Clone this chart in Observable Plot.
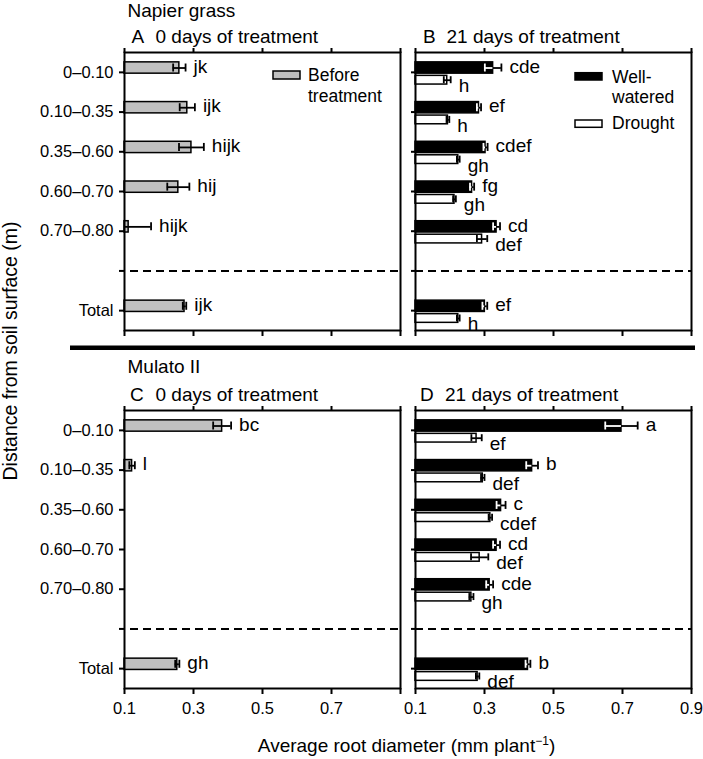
<!DOCTYPE html>
<html><head><meta charset="utf-8">
<script src="https://cdn.jsdelivr.net/npm/d3@7"></script>
<script src="https://cdn.jsdelivr.net/npm/@observablehq/plot@0.6"></script>
<style>
body{margin:0;background:#fff;}
#fig{position:relative;width:703px;height:759px;font-family:"Liberation Sans",Arial,Helvetica,sans-serif;}
#fig .p{position:absolute;}
#fig svg.ov{position:absolute;left:0;top:0;pointer-events:none;overflow:visible;}
</style></head><body><div id="fig"></div>
<script>
// ---------- data ----------
const depths = ["0–0.10","0.10–0.35","0.35–0.60","0.60–0.70","0.70–0.80","Total"];
const slots  = ["0–0.10","0.10–0.35","0.35–0.60","0.60–0.70","0.70–0.80","sep","Total"];
const xTicks = [0.1, 0.3, 0.5, 0.7, 0.9];
const xTickLabelsLeft  = ["0.1","0.3","0.5","0.7",""];
const xTickLabelsRight = ["0.1","0.3","0.5","0.7","0.9"];
const xDomain = [0.1, 0.9];

// Napier grass
const napierBefore        = [0.259, 0.282, 0.294, 0.256, 0.112, 0.274];
const napierBeforeErr     = [0.018, 0.022, 0.036, 0.032, 0.065, 0.005];
const napierBeforeLetters = ["jk","ijk","hijk","hij","hijk","ijk"];
const napierWW            = [0.325, 0.284, 0.303, 0.264, 0.335, 0.301];
const napierWWErr         = [0.024, 0.006, 0.006, 0.006, 0.010, 0.007];
const napierWWLetters     = ["cde","ef","cdef","fg","cd","ef"];
const napierDr            = [0.192, 0.194, 0.224, 0.213, 0.293, 0.224];
const napierDrErr         = [0.010, 0.004, 0.004, 0.004, 0.015, 0.004];
const napierDrLetters     = ["h","h","gh","gh","def","h"];

// Mulato II
const mulatoBefore        = [0.383, 0.122, null, null, null, 0.253];
const mulatoBeforeErr     = [0.026, 0.008, null, null, null, 0.006];
const mulatoBeforeLetters = ["bc","l",null,null,null,"gh"];
const mulatoWW            = [0.697, 0.438, 0.348, 0.335, 0.315, 0.426];
const mulatoWWErr         = [0.047, 0.017, 0.013, 0.010, 0.010, 0.007];
const mulatoWWLetters     = ["a","b","c","cd","cde","b"];
const mulatoDr            = [0.277, 0.295, 0.317, 0.286, 0.262, 0.280];
const mulatoDrErr         = [0.015, 0.005, 0.005, 0.025, 0.006, 0.005];
const mulatoDrLetters     = ["ef","def","cdef","def","gh","def"];

// ---------- styling ----------
const FONT = "Liberation Sans, Arial, Helvetica, sans-serif";
const roles = {
  before: {fill: "#c0c0c0", inner: "black", slot: "top"},
  ww:     {fill: "black",   inner: "white", slot: "top"},
  dr:     {fill: "white",   inner: "black", slot: "bottom"}
};
const geo = {
  top:    {barTop: -10, barBottom: 1.3,  line: -4.35, cap: 4,   labelDy: -5.8},
  bottom: {barTop: 3.5, barBottom: 12.2, line: 7.85,  cap: 3.5, labelDy: 13.7}
};

function rows(values, errs, letters) {
  return depths.map((depth, i) => ({depth, v: values[i], e: errs[i], letter: letters[i]}))
               .filter(d => d.v != null);
}

function seriesMarks(data, roleName, step) {
  const r = roles[roleName], g = geo[r.slot], h = step / 2;
  const capTop = h + g.line - g.cap, capBottom = h - g.line - g.cap;
  return [
    Plot.barX(data, {y: "depth", x1: () => xDomain[0], x2: "v", fill: r.fill, stroke: "black",
      strokeWidth: 1.5, insetTop: h + g.barTop, insetBottom: h - g.barBottom}),
    Plot.ruleY(data, {y: "depth", x1: d => d.v - d.e, x2: "v", dy: g.line, stroke: r.inner, strokeWidth: 1.8, clip: true}),
    Plot.ruleY(data, {y: "depth", x1: "v", x2: d => d.v + d.e, dy: g.line, stroke: "black", strokeWidth: 1.8}),
    Plot.tickX(data, {y: "depth", x: d => d.v - d.e, insetTop: capTop, insetBottom: capBottom, stroke: r.inner, strokeWidth: 1.8, clip: true}),
    Plot.tickX(data, {y: "depth", x: d => d.v + d.e, insetTop: capTop, insetBottom: capBottom, stroke: "black", strokeWidth: 1.8}),
    Plot.text(data, {y: "depth", x: d => d.v + d.e, text: "letter", dx: 8, dy: g.labelDy,
      textAnchor: "start", fontSize: 19, fill: "black"})
  ];
}

function panel({series, left, top, marginLeft, marginRight, marginTop, marginBottom, yLabels, xLabels, dashInset}) {
  const plotH = 278;
  const height = marginTop + plotH + marginBottom;
  const width = marginLeft + 276 + marginRight;
  const step = plotH / slots.length;
  const marks = [
    Plot.ruleY(["sep"], {stroke: "black", strokeWidth: 2, strokeDasharray: "8,5", insetLeft: dashInset})
  ];
  for (const s of series) marks.push(...seriesMarks(s.data, s.role, step));
  marks.push(
    Plot.axisX({anchor: "top", ticks: xTicks, tickSize: 5, tickFormat: () => "", label: null, strokeWidth: 2}),
    Plot.axisX({anchor: "bottom", ticks: xTicks, tickSize: 6, tickPadding: 8, label: null, strokeWidth: 2,
      fontSize: 16.5, tickFormat: xLabels ? ((d, i) => xLabels[i]) : () => ""}),
    Plot.axisY({anchor: "left", tickSize: yLabels ? 5 : 4, tickPadding: 6, label: null, strokeWidth: 2,
      fontSize: 16.5, tickFormat: yLabels ? (d => d === "sep" ? "" : d) : () => ""}),
    Plot.frame({stroke: "black", strokeWidth: 2})
  );
  const chart = Plot.plot({
    width, height, marginLeft, marginRight, marginTop, marginBottom,
    x: {domain: xDomain},
    y: {type: "band", domain: slots, padding: 0, round: false},
    style: {fontFamily: FONT, fontSize: "16.5px", color: "black", background: "transparent", overflow: "visible"},
    marks
  });
  const div = document.createElement("div");
  div.className = "p";
  div.style.left = left + "px";
  div.style.top = top + "px";
  div.appendChild(chart);
  document.getElementById("fig").appendChild(div);
}

panel({series: [{role: "before", data: rows(napierBefore, napierBeforeErr, napierBeforeLetters)}],
  left: 0, top: 40, marginLeft: 124, marginRight: 4, marginTop: 12, marginBottom: 12, yLabels: true, xLabels: null, dashInset: 6});
panel({series: [{role: "ww", data: rows(napierWW, napierWWErr, napierWWLetters)},
                {role: "dr", data: rows(napierDr, napierDrErr, napierDrLetters)}],
  left: 411, top: 40, marginLeft: 4, marginRight: 10, marginTop: 12, marginBottom: 12, yLabels: false, xLabels: null, dashInset: 0});
panel({series: [{role: "before", data: rows(mulatoBefore, mulatoBeforeErr, mulatoBeforeLetters)}],
  left: 0, top: 398, marginLeft: 124, marginRight: 4, marginTop: 12, marginBottom: 50, yLabels: true, xLabels: xTickLabelsLeft, dashInset: 6});
panel({series: [{role: "ww", data: rows(mulatoWW, mulatoWWErr, mulatoWWLetters)},
                {role: "dr", data: rows(mulatoDr, mulatoDrErr, mulatoDrLetters)}],
  left: 411, top: 398, marginLeft: 4, marginRight: 10, marginTop: 12, marginBottom: 50, yLabels: false, xLabels: xTickLabelsRight, dashInset: 0});

// ---------- titles, legends, separator ----------
const ovText = [
  {t: "Napier grass", x: 127.5, y: 16.5, s: 19},
  {t: "A", x: 131.5, y: 42.7, s: 19},
  {t: "0 days of treatment", x: 155.5, y: 42.7, s: 19},
  {t: "B", x: 423, y: 42.7, s: 19},
  {t: "21 days of treatment", x: 446.5, y: 42.7, s: 19},
  {t: "Mulato II", x: 127.5, y: 373.3, s: 19},
  {t: "C", x: 130, y: 401, s: 19},
  {t: "0 days of treatment", x: 155.5, y: 401, s: 19},
  {t: "D", x: 420, y: 401, s: 19},
  {t: "21 days of treatment", x: 445, y: 401, s: 19},
  {t: "Before", x: 308, y: 81.3, s: 17.5},
  {t: "treatment", x: 308, y: 101.7, s: 17.5},
  {t: "Well-", x: 612, y: 82.7, s: 17.5},
  {t: "watered", x: 612, y: 103.3, s: 17.5},
  {t: "Drought", x: 612, y: 129.3, s: 17.5}
];
const ns = "http://www.w3.org/2000/svg";
const ov = document.createElementNS(ns, "svg");
ov.setAttribute("class", "ov");
ov.setAttribute("width", 703); ov.setAttribute("height", 759);
ov.setAttribute("font-family", FONT);
let html = "";
for (const d of ovText) html += `<text x="${d.x}" y="${d.y}" font-size="${d.s}">${d.t}</text>`;
html += `<rect x="273" y="71" width="27" height="8" fill="#c0c0c0" stroke="black" stroke-width="1.5"/>`;
html += `<rect x="575" y="72.7" width="27" height="7.3" fill="black" stroke="black" stroke-width="1.5"/>`;
html += `<rect x="575" y="120" width="27" height="7.3" fill="white" stroke="black" stroke-width="1.5"/>`;
html += `<rect x="70" y="345.5" width="625" height="4.5" fill="black"/>`;
html += `<text transform="translate(16.5,351) rotate(-90)" text-anchor="middle" font-size="19.5">Distance from soil surface (m)</text>`;
html += `<text x="406.5" y="752" text-anchor="middle" font-size="19">Average root diameter (mm plant<tspan font-size="12" dy="-7">−1</tspan><tspan dy="7">)</tspan></text>`;
ov.innerHTML = html;
document.getElementById("fig").appendChild(ov);
</script></body></html>
